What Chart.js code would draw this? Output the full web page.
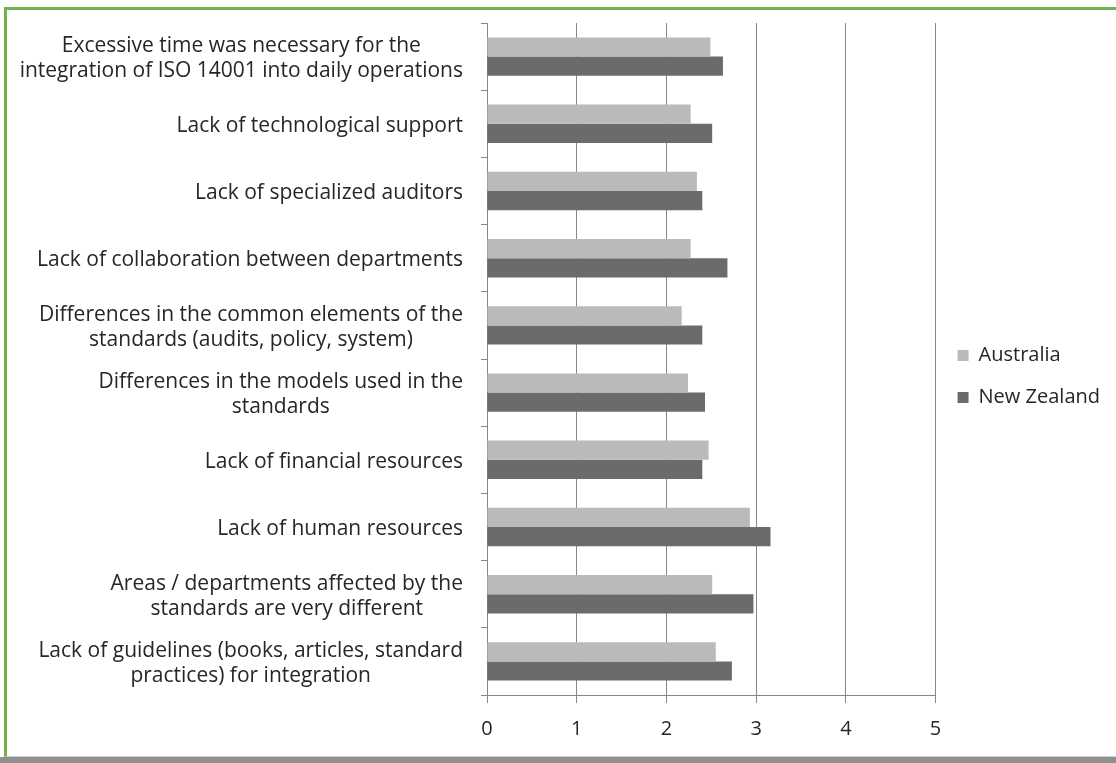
<!DOCTYPE html>
<html>
<head>
<meta charset="utf-8">
<script src="https://cdn.jsdelivr.net/npm/chart.js@4/dist/chart.umd.min.js"></script>
<style>
	html, body {
		margin: 0;
		padding: 0;
		background: #ffffff;
		width: 1116px;
		height: 763px;
		overflow: hidden;
	}

	.frame {
		position: absolute;
		left: 4px;
		top: 7px;
		width: 1109px;
		height: 746px;
		border-left: 3px solid #6cb54c;
		border-top: 3px solid #6cb54c;
		border-bottom: 1px solid #cfcfcf;
	}

	.footer {
		position: absolute;
		left: 0;
		top: 757px;
		width: 1116px;
		height: 6px;
		background: #8f8f8f;
	}

	.chart-box {
		position: absolute;
		left: 8px;
		top: 10px;
		width: 1108px;
		height: 746px;
	}
</style>
</head>
<body>
<div class="frame"></div>
<div class="footer"></div>
<div class="chart-box">
	<canvas id="barriersChart"></canvas>
</div>

<script>
	const barrierLabels = [
		["Excessive time was necessary for the", "integration of ISO 14001 into daily operations"],
		"Lack of technological support",
		"Lack of specialized auditors",
		"Lack of collaboration between departments",
		["Differences in the common elements of the", "standards (audits, policy, system)"],
		["Differences in the models used in the", "standards"],
		"Lack of financial resources",
		"Lack of human resources",
		["Areas / departments affected by the", "standards are very different"],
		["Lack of guidelines (books, articles, standard", "practices) for integration"]
	];

	const australiaValues = [2.49, 2.27, 2.34, 2.27, 2.17, 2.24, 2.47, 2.93, 2.51, 2.55];
	const newZealandValues = [2.63, 2.51, 2.40, 2.68, 2.40, 2.43, 2.40, 3.16, 2.97, 2.73];

	const scoreTicks = [0, 1, 2, 3, 4, 5];

	const fontFamily = "'Open Sans', 'Liberation Sans', sans-serif";
	const textColor = "#262626";
	const gridColor = "#868686";
	const labelSize = 21;
	const labelLineHeight = 25;

	/* category names: lines centred on each other, block right-aligned to the axis */
	const categoryLabels = {
		id: "categoryLabels",
		afterLayout(chart) {
			// lift the legend a little above the middle of the canvas
			if (chart.legend) {
				chart.legend.top -= 13;
				chart.legend.bottom -= 13;
			}
		},
		afterDraw(chart) {
			const scale = chart.scales.y;
			const ctx = chart.ctx;

			ctx.save();
			ctx.font = labelSize + "px " + fontFamily;
			ctx.fillStyle = textColor;
			ctx.textAlign = "center";
			ctx.textBaseline = "middle";

			barrierLabels.forEach((label, i) => {
				const lines = Array.isArray(label) ? label : [label];
				const widest = Math.max(...lines.map((line) => ctx.measureText(line).width));
				const centerX = scale.right - 24 - widest / 2;
				const centerY = scale.getPixelForValue(i) + 2;
				const firstY = centerY - (lines.length - 1) * labelLineHeight / 2;

				lines.forEach((line, j) => {
					ctx.fillText(line, centerX, firstY + j * labelLineHeight);
				});
			});

			ctx.restore();
		}
	};

	document.addEventListener("DOMContentLoaded", () => {

		const canvas = document.getElementById("barriersChart");

		new Chart(canvas, {
			type: "bar",

			data: {
				labels: barrierLabels,

				datasets: [
					{
						label: "Australia",
						data: australiaValues,
						backgroundColor: "#bababa",
						borderWidth: 0
					},
					{
						label: "New Zealand",
						data: newZealandValues,
						backgroundColor: "#6b6b6b",
						borderWidth: 0
					}
				]
			},

			options: {
				indexAxis: "y",
				responsive: true,
				maintainAspectRatio: false,
				animation: false,

				datasets: {
					bar: {
						barPercentage: 1,
						categoryPercentage: 0.571
					}
				},

				layout: {
					padding: {
						top: 13,
						left: 0,
						right: 6,
						bottom: 0
					}
				},

				plugins: {
					legend: {
						position: "right",
						labels: {
							boxWidth: 11,
							boxHeight: 11,
							padding: 22,
							color: textColor,
							font: {
								family: fontFamily,
								size: 20
							}
						}
					},
					tooltip: {
						enabled: false
					}
				},

				scales: {
					x: {
						min: 0,
						max: 5,
						afterFit(scale) {
							scale.height = 61;
						},
						afterBuildTicks(scale) {
							scale.ticks = scoreTicks.map((value) => ({ value }));
						},
						grid: {
							color: gridColor,
							lineWidth: 1,
							tickLength: 8,
							drawTicks: true
						},
						border: {
							color: gridColor
						},
						ticks: {
							padding: 14,
							color: textColor,
							font: {
								family: fontFamily,
								size: 20
							}
						}
					},
					y: {
						afterFit(scale) {
							scale.width = 479;
						},
						grid: {
							drawOnChartArea: false,
							drawTicks: true,
							tickLength: 6,
							color: gridColor
						},
						border: {
							color: gridColor
						},
						ticks: {
							display: false
						}
					}
				}
			},

			plugins: [categoryLabels]
		});
	});
</script>
</body>
</html>
